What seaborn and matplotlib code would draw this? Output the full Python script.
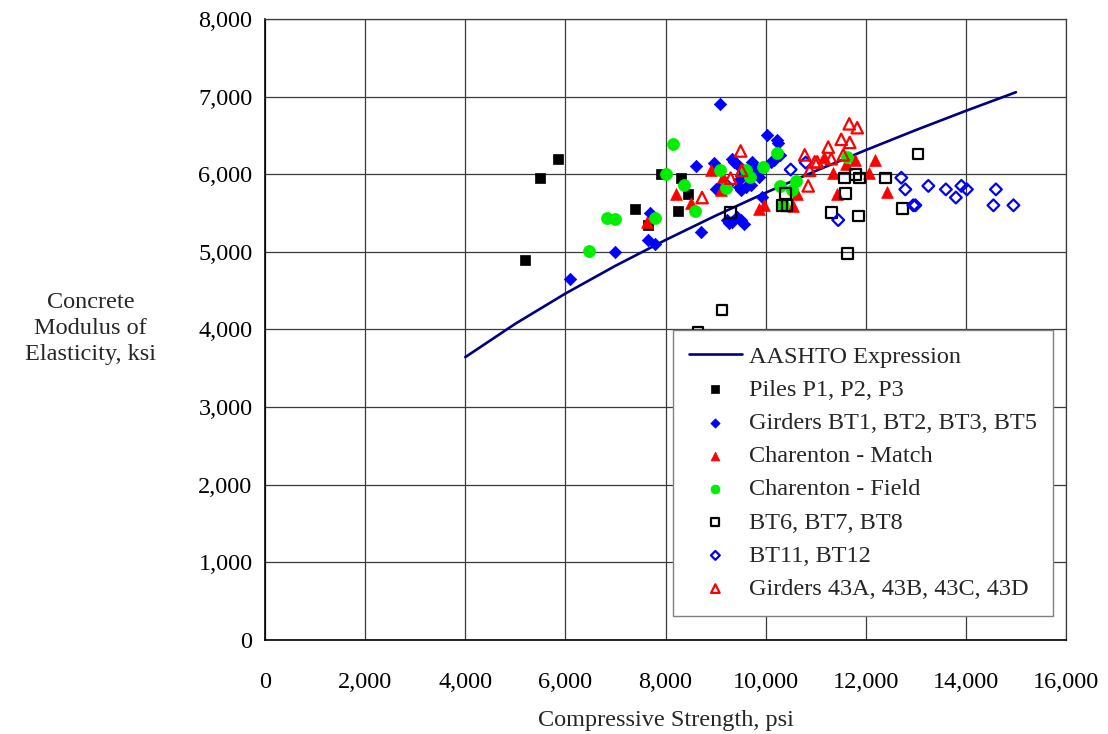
import matplotlib
matplotlib.use("Agg")
import matplotlib.pyplot as plt
from matplotlib.ticker import FuncFormatter, MultipleLocator
import seaborn as sns

# AASHTO expression curve, psi vs ksi
aashto_fc = [4000, 5000, 6000, 7000, 8000, 9000, 10000, 11000, 12000, 13000, 14000, 15000]
aashto_e = [3644, 4074, 4463, 4821, 5153, 5466, 5762, 6043, 6311, 6569, 6817, 7057]

piles_fc = [5200, 5500, 5850, 7400, 7650, 7900, 8300, 8450, 8250]
piles_e = [4900, 5950, 6200, 5550, 5350, 6000, 5950, 5750, 5530]

girders_bt_fc = [6100, 7000, 7680, 7650, 7790, 8700, 8610, 8970, 9080, 9000,
                 9330, 9370, 9470, 9730, 9770, 10030, 10220, 10250, 10100, 10170,
                 10290, 9230, 9470, 9570, 9670, 9800, 9500, 9600, 9700, 9870,
                 9920, 9200, 9470, 9230, 9330, 9430, 9500, 9560, 9270, 9050]
girders_bt_e = [4650, 5000, 5500, 5150, 5100, 5250, 6100, 6150, 6900, 5810,
                6200, 6160, 6100, 6160, 6100, 6510, 6440, 6400, 6160, 6180,
                6250, 5860, 5920, 6030, 5950, 6010, 5800, 5840, 5860, 5970,
                5710, 5860, 5840, 5410, 5390, 5450, 5410, 5360, 5370, 5820]

match_fc = [7630, 8210, 8510, 8910, 9150, 9110, 9870, 9970, 10540, 10630,
            11170, 11350, 11420, 11600, 11780, 12060, 12190, 12430]
match_e = [5390, 5750, 5630, 6060, 5960, 5800, 5550, 5600, 5590, 5750,
           6220, 6010, 5740, 6130, 6180, 6010, 6180, 5770]

field_fc = [6470, 6840, 7000, 7790, 8010, 8140, 8370, 8590, 9090, 9210,
            9610, 9680, 9940, 10230, 10290, 10350, 10530, 10610, 11630]
field_e = [5010, 5440, 5420, 5440, 6000, 6390, 5860, 5530, 6060, 5820,
           6060, 5960, 6090, 6280, 5850, 5600, 5800, 5910, 6220]

bt678_fc = [8650, 9130, 9300, 10330, 10430, 10400, 11320, 11570, 11600, 11630,
            11790, 11850, 11880, 12390, 12730, 13040]
bt678_e = [3960, 4250, 5510, 5600, 5600, 5750, 5510, 5950, 5750, 4980,
           6000, 5460, 5950, 5950, 5560, 6260]

bt1112_fc = [10500, 10800, 11450, 12710, 12790, 12950, 12990, 13250, 13600, 13800,
             13910, 14020, 14550, 14600, 14950]
bt1112_e = [6060, 6150, 5410, 5955, 5805, 5600, 5600, 5850, 5805, 5700,
            5850, 5805, 5600, 5805, 5600]

g43_fc = [8730, 9300, 9500, 9520, 10780, 10850, 10880, 10980, 11030, 11250,
          11310, 11510, 11550, 11670, 11680, 11830]
g43_e = [5700, 5950, 6300, 6050, 6250, 5850, 6050, 6160, 6160, 6350,
         6200, 6450, 6250, 6650, 6410, 6600]

FS = 17.5

sns.set_theme(style="white")
plt.rcParams["font.family"] = ["Liberation Serif", "DejaVu Serif"]
plt.rcParams["font.size"] = FS

fig = plt.figure(figsize=(11.08, 7.34), dpi=100)
ax = fig.add_axes([0.2392, 0.1281, 0.7229, 0.846])

sns.lineplot(x=aashto_fc, y=aashto_e, ax=ax, color="#000080", linewidth=1.9,
             label="AASHTO Expression", sort=False)

series = [
    (piles_fc, piles_e, "Piles P1, P2, P3", "s", "#000000", True, 62),
    (girders_bt_fc, girders_bt_e, "Girders BT1, BT2, BT3, BT5", "D", "#0000FF", True, 40),
    (match_fc, match_e, "Charenton - Match", "^", "#FF0000", True, 72),
    (field_fc, field_e, "Charenton - Field", "o", "#00EE00", True, 75),
    (bt678_fc, bt678_e, "BT6, BT7, BT8", "s", "#000000", False, 58),
    (bt1112_fc, bt1112_e, "BT11, BT12", "D", "#0000FF", False, 36),
    (g43_fc, g43_e, "Girders 43A, 43B, 43C, 43D", "^", "#FF0000", False, 68),
]

for xs, ys, name, mk, col, filled, size in series:
    if filled:
        sns.scatterplot(x=xs, y=ys, ax=ax, marker=mk, s=size, color=col,
                        edgecolor=col, linewidth=0.5, label=name, zorder=3)
    else:
        sns.scatterplot(x=xs, y=ys, ax=ax, marker=mk, s=size, color=col,
                        facecolor="none", edgecolor=col, linewidth=1.6,
                        label=name, zorder=3)

ax.set_xlim(0, 16000)
ax.set_ylim(0, 8000)
ax.xaxis.set_major_locator(MultipleLocator(2000))
ax.yaxis.set_major_locator(MultipleLocator(1000))
ax.xaxis.set_minor_locator(MultipleLocator(1000))
ax.yaxis.set_minor_locator(MultipleLocator(500))
fmt = FuncFormatter(lambda v, p: f"{v:,.0f}")
ax.xaxis.set_major_formatter(fmt)
ax.yaxis.set_major_formatter(fmt)

ax.grid(True, which="major", color="#3a3a3a", linewidth=0.9)
ax.tick_params(which="both", direction="in", labelsize=FS, colors="black")
ax.tick_params(which="major", length=0)
ax.tick_params(which="minor", length=4, width=0.8)
ax.tick_params(axis="y", which="major", pad=9)
ax.tick_params(axis="x", which="major", pad=23)
for side in ["left", "bottom"]:
    ax.spines[side].set_color("black")
    ax.spines[side].set_linewidth(1.2)
for side in ["top", "right"]:
    ax.spines[side].set_color("#3a3a3a")
    ax.spines[side].set_linewidth(0.9)

ax.set_xlabel("Compressive Strength, psi", fontsize=FS, labelpad=12)
ax.set_ylabel("Concrete\nModulus of\nElasticity, ksi", fontsize=FS,
              rotation=0, ha="center", va="center", linespacing=1.3)
ax.yaxis.set_label_coords(-0.218, 0.502)

leg = ax.legend(loc="lower right", bbox_to_anchor=(0.984, 0.039),
                borderaxespad=0, fontsize=FS, frameon=True, fancybox=False,
                edgecolor="#808080", framealpha=1, markerscale=0.75,
                handlelength=2.2, handletextpad=0.3, labelspacing=0.46,
                borderpad=0.65)
leg.get_frame().set_linewidth(1.0)

fig.savefig("out.png", dpi=100)
